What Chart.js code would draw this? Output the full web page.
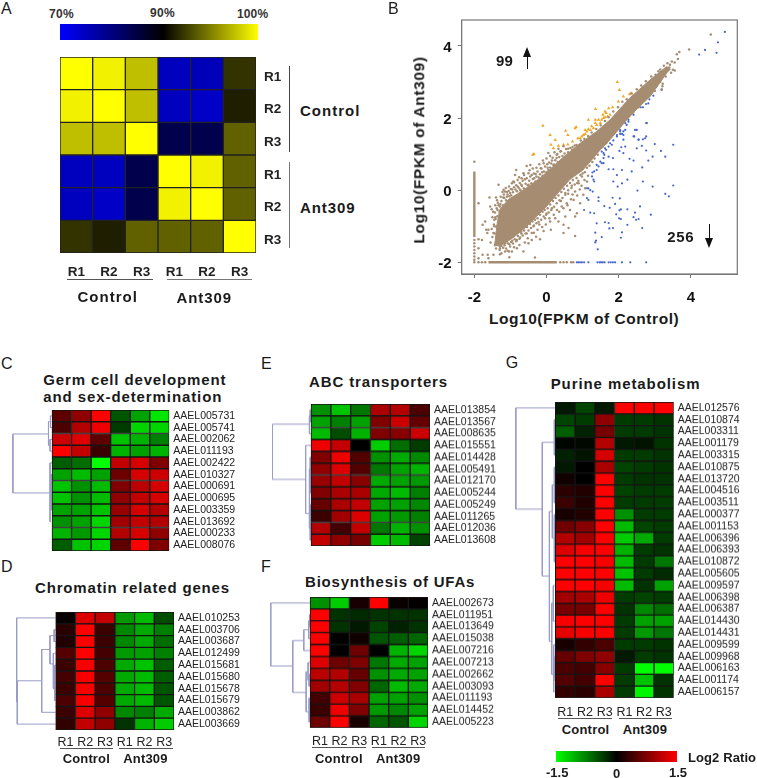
<!DOCTYPE html>
<html>
<head>
<meta charset="utf-8">
<title>Ant309 RNA-seq figure</title>
<script src="https://cdn.jsdelivr.net/npm/chart.js@4"></script>
<style>
html,body{margin:0;padding:0;background:#fff;width:757px;height:778px;overflow:hidden}
#page{position:relative;width:757px;height:778px;font-family:"Liberation Sans",Arial,sans-serif;color:#1a1a1a}
#page canvas{position:absolute}
.t{position:absolute;white-space:nowrap;line-height:1}
.r{position:absolute;background:#666}
</style>
</head>
<body>
<div id="page"></div>
<script>
// ---- panel A
var replicates=['R1','R2','R3','R1','R2','R3'];
var corrRows=[
 [100,99.5,97.5,75,75.5,92],
 [99.5,100,97.5,75,74.5,91.2],
 [97.5,97.5,100,84,84,93.8],
 [75,75,84,100,99.5,93.8],
 [75,74.5,84,99.5,100,93.8],
 [92,91.2,93.8,93.8,93.8,100]];
// ---- panel B, log10 FPKM pairs
var xTicks=[-2,0,2,4];
var yTicks=[-2,0,2,4];
var cloudOutline=[[-1.45,-1.55],[-1.42,-1.4],[-1.38,-1],[-1.3,-0.55],[-1.05,-0.25],[-0.8,-0.1],[-0.5,0.1],[-0.2,0.32],[0.1,0.58],[0.47,0.92],[0.93,1.3],[1.39,1.63],[1.76,1.95],[2.3,2.55],[2.87,3.06],[3.33,3.43],[3.43,3.36],[3.33,3.25],[2.87,2.6],[2.5,2.25],[2.18,1.9],[1.76,1.4],[1.49,1.12],[1.2,0.78],[1,0.55],[0.65,0.3],[0.3,-0.1],[0,-0.45],[-0.3,-0.75],[-0.6,-1.05],[-0.9,-1.3],[-1.2,-1.5],[-1.45,-1.55]];
var stripLeft=[[-2,0.52],[-2,-1.3]];
var stripBottom=[[-1.61,-2],[0.285,-2]];
var brownPts=[[-2,0.79],[-2,-1.38],[-2,-1.47],[-2,-1.56],[-2,-1.66],[-2,-1.75],[-2,-1.84],[-2,-1.93],[-2,-2],[-1.885,-2],[-1.79,-2],[-1.7,-2],[0.38,-2],[0.47,-2],[0.56,-2],[0.68,-2],[0.74,-2],
[-1.885,-0.36],[-1.77,-0.96],[-1.7,-0.87],[-1.67,-1.1],[-1.61,-1.1],[-1.64,-1.19],[-1.885,-1.36],[-1.79,-1.38],[-1.885,-1.61],[-1.77,-1.79],[-1.63,-1.79],[-1.47,-1.79],[-1.29,-1.78],[-1.15,-1.7],[-1.04,-1.7],[-0.96,-1.7],[-1.03,-1.86],[-0.32,-1.87],[-1.61,-1.89],[-1.885,-1.89],
[-1.58,-0.2],[-1.4,-0.2],[-1.33,0.15],[-1.56,-0.45],[-1.52,-0.53],[-1.45,-0.82],[-1.29,-0.45],[-1.3,-0.59],[-1.19,0.01],[-1.15,-0.04],[-0.87,0.42],[-0.84,0.56],[-0.96,0.19],[-0.92,0.24],[-0.64,0.47],[-0.55,0.67],[-0.45,0.7],[-0.41,0.42],[-0.34,0.33],[-0.16,0.61],[-0.08,0.75],[0.05,1.03],[0.28,0.89],[0.38,1.07],[0.19,0.7],[0.05,0.56],[-0.27,0.19],[-0.5,0.15],[-0.73,0.01],[-1.01,-0.08],[-1.1,-0.18],[-1.24,-0.5],[-1.29,-0.78],[-1.4,-1.01],[-1.47,-1.19],
[-1.29,-1.61],[-1.15,-1.47],[-1.01,-1.56],[-0.82,-1.61],[-0.64,-1.7],[-0.82,-1.38],[-0.73,-1.31],[-0.5,-1.47],[-0.41,-1.38],[-0.29,-1.29],[-0.18,-1.36],[-0.41,-1.19],[-0.08,-1.13],[0.12,-1.1],[0.47,-1.19],[0.79,-1.27],[0.61,-1.05],[0.47,-0.96],[0.33,-0.87],[0.1,-0.87],[-0.04,-0.78],[0.24,-0.78],[0.52,-0.73],[0.79,-0.73],[0.84,-0.64],[0.65,-0.55],[0.47,-0.5],[0.29,-0.55],[0.93,-0.36],[0.75,-0.27],[0.56,-0.36],[0.52,-0.13],[0.79,-0.04],[1.02,-0.13],[1.07,0.05],[1.12,0.24],[0.98,0.38],[0.89,0.19],
[-1.2,-0.2],[-1.1,-0.05],[-0.95,0.02],[-0.8,0.1],[-0.7,0.15],[-0.6,0.3],[-0.3,0.45],[-0.12,0.5],[0.02,0.72],[0.15,0.82],[0.3,1],[0.6,1.15],[0.72,1.2],[-1.35,-0.35],[-1.38,-0.5],[-1.42,-0.75],[-1.45,-1],[-1.5,-1.3],[-1.55,-1.45],[-1.3,-1.55],[-1.1,-1.4],[-0.95,-1.4],[-0.7,-1.2],[-0.55,-1.2],[-0.35,-0.98],[-0.2,-0.95],[0,-0.65],[0.15,-0.5],[0.4,-0.3],[0.6,-0.1],[0.7,0.12],[0.85,0.2],
[-1.44,-1.2],[-1.46,-0.95],[-1.41,-0.8],[-1.43,-0.62],[-1.36,-0.72],[-1.33,-0.42],[-1.36,-0.55],[-1.28,-0.38],[-1.25,-0.3],[-1.21,-0.42],[-1.17,-0.22],[-1.18,-0.12],[-1.12,-0.28],[-1.08,-0.12],[-1.05,-0.02],[-1.03,-0.17],[-0.98,-0.14],[-0.99,0.03],[-0.93,-0.06],[-0.9,0.08],[-0.86,0.02],[-0.84,0.14],[-0.82,-0.03],[-0.77,0.06],[-0.74,0.2],[-0.72,-0.01],[-0.68,0.12],[-0.66,0.26],[-0.63,0.05],[-0.58,0.18],[-0.55,0.33],[-0.52,0.14],[-0.48,0.26],[-0.45,0.38],[-0.42,0.19],[-0.38,0.31],[-0.35,0.46],[-0.31,0.24],[-0.28,0.38],[-0.25,0.52],[-0.22,0.35],[-0.18,0.44],[-0.14,0.6],[-0.11,0.4],[-0.07,0.52],[-0.04,0.66],[0,0.5],[0.03,0.62],[0.07,0.77],[0.1,0.63],[0.13,0.74],[0.17,0.9],[0.21,0.71],[0.24,0.83],[0.28,0.98],[0.31,0.78],[0.35,0.92],[0.4,1.08],[0.44,0.95],[0.5,1.02],[0.54,1.14],[0.6,1.05],[0.66,1.17],[0.71,1.12],[0.78,1.24],[0.83,1.25],
[-1.4,-1.62],[-1.35,-1.52],[-1.3,-1.66],[-1.25,-1.55],[-1.2,-1.6],[-1.16,-1.53],[-1.12,-1.62],[-1.07,-1.47],[-1.03,-1.5],[-0.98,-1.44],[-0.93,-1.48],[-0.88,-1.36],[-0.84,-1.42],[-0.79,-1.27],[-0.75,-1.35],[-0.7,-1.15],[-0.66,-1.26],[-0.62,-1.12],[-0.58,-1.2],[-0.54,-1.02],[-0.5,-1.12],[-0.46,-0.94],[-0.43,-1.05],[-0.39,-0.87],[-0.36,-1],[-0.32,-0.82],[-0.28,-0.92],[-0.25,-0.78],[-0.22,-0.88],[-0.18,-0.68],[-0.15,-0.82],[-0.11,-0.6],[-0.08,-0.73],[-0.05,-0.55],[-0.01,-0.68],[0.03,-0.5],[0.06,-0.62],[0.1,-0.4],[0.13,-0.55],[0.18,-0.3],[0.21,-0.46],[0.25,-0.22],[0.28,-0.36],[0.33,-0.15],[0.36,-0.28],[0.41,-0.05],[0.44,-0.22],[0.48,0.04],[0.52,-0.08],[0.57,0.12],[0.6,0],[0.65,0.2],[0.69,0.06],[0.73,0.28],[0.78,0.16],[0.83,0.34],[0.88,0.26],[0.94,0.42],[1,0.46],[1.06,0.5],[1.12,0.62],[1.19,0.68],[1.27,0.78],[1.33,0.88],[1.42,0.98],[1.55,1.2],[1.65,1.3],[1.8,1.5],[1.95,1.68],[2.1,1.88],[2.25,2.02],[2.4,2.15],[2.55,2.3],[2.7,2.48],[2.85,2.62],[3,2.75],[3.15,3],[3.3,3.15],
[0.95,1.38],[1.05,1.42],[1.15,1.5],[1.25,1.6],[1.38,1.7],[1.5,1.8],[1.62,1.92],[1.72,2.02],[1.85,2.18],[1.98,2.3],[2.1,2.45],[2.22,2.52],[2.36,2.68],[2.5,2.8],[2.62,2.9],[2.75,3.02],[2.9,3.15],[3.02,3.2],[3.15,3.35],[3.25,3.45],
[-1.5,-0.75],[-1.52,-1.08],[-1.48,-0.6],[-1.42,-0.42],[-1.37,-0.28],[-1.27,-0.18],[-1.22,-0.05],[-1.13,0.06],[-1.04,0.1],[-0.9,0.22],[-0.8,0.28],[-0.76,0.36],[-0.69,0.33],[-0.62,0.42],[-0.5,0.47],[-0.47,0.55],[-0.38,0.6],[-0.28,0.62],[-0.2,0.72],[-0.1,0.82],[0,0.88],[0.1,0.95],[0.22,1.05],[0.33,1.15],[0.47,1.22],
[-1.25,-1.75],[-1.08,-1.68],[-0.9,-1.58],[-0.75,-1.52],[-0.6,-1.45],[-0.52,-1.33],[-0.35,-1.18],[-0.25,-1.1],[-0.12,-1.02],[-0.02,-0.95],[0.08,-0.78],[0.2,-0.68],[0.35,-0.6],[0.42,-0.45],[0.58,-0.42],[0.68,-0.25],[0.72,-0.12],[0.85,-0.15],[0.92,0.02],[0.97,0.12],[1.05,0.28],[1.15,0.4],
[4.55,4.32],[3.95,3.9],[3.68,3.83],[3.61,3.77],[3.64,3.64],[3.55,3.54],[3.47,3.57],[3.42,3.48],[3.5,3.34],[3.55,3.32],[3.45,3.26],[3.22,2.95],[3.21,2.88],[3.19,2.8],[3.4,3.4],[3.35,3.52],[3.1,3.3],[3.05,2.88]];
var bluePts=[[2.76,1.86],[2.27,1.9],[2.45,1.67],[2.43,1.49],[2.55,1.4],[2.67,1.41],[2.76,1.49],[3,1.28],[3.51,1.26],[2.64,1.23],[2.5,1.16],[2.76,1.1],[3.17,1.09],[3.29,0.93],[2.94,0.93],[2.82,0.82],[2.41,0.82],[2.3,0.87],[2.13,1.03],[2.02,1.09],[2.18,1.21],[2.07,1.19],[2.65,0.63],[2.36,0.52],[2.09,0.56],[1.85,0.58],[1.72,0.58],[1.58,0.75],[1.84,0.89],[1.72,0.93],[1.58,0.89],[1.95,0.42],[2.24,0.29],[2.09,0.19],[1.85,0.24],[1.97,0.1],[2.67,0.24],[2.94,0.1],[3.51,0.13],[2.52,-0.01],[3.29,-0.1],[3.39,-0.17],[1.83,-0.21],[2.03,-0.23],[1.44,-0.2],[1.44,-0.3],[2.59,-0.45],[2.24,-0.53],[2.06,-0.53],[2.02,-0.56],[1.9,-0.38],[1.75,-0.49],[1.6,-0.44],[1.04,-0.55],[1.21,-0.62],[1.32,-0.64],[2.45,-0.62],[2.89,-0.68],[1.93,-0.67],[2.01,-0.78],[2.06,-0.8],[2.41,-0.75],[2.48,-0.82],[2.55,-0.8],[1.39,-0.92],[1.62,-0.89],[1.72,-0.91],[2.24,-0.96],[2.65,-1.05],[1.74,-1.06],[1.84,-1.05],[1.35,-1.18],[2.09,-1.17],[1.53,-1.3],[2.06,-1.32],[1.37,-1.4],[1.35,-1.45],[1.42,-1.64],
[1.27,0.49],[1.32,0.52],[1.26,0.38],[1.39,0.56],[1.44,0.66],[1.53,0.75],[1.58,1.03],[1.65,1.12],[1.72,1.21],[1.76,1.3],[1.85,1.38],[1.95,1.49],[2.04,1.56],[2.13,1.63],[2.04,1.67],[2.13,1.53],[2.22,1.81],[2.18,1.67],[1.81,1.26],[1.62,1.16],[1.53,1.07],[1.6,0.98],[1.49,0.79],[1.39,0.7],[1.3,0.29],[1.32,0.24],[1.16,0.05],[1.21,0],[1.12,0.05],[1.28,-0.04],[1.16,-0.27],[1.12,-0.22],
[0.84,-2],[0.88,-2],[0.93,-2],[0.98,-2],[1.04,-2],[1.16,-2],[1.41,-2],[1.47,-2],[1.51,-2],[1.56,-2],[1.61,-2],[1.72,-2],[1.78,-2],[1.84,-2],[1.9,-2],[2.09,-2],[2.32,-2],[2.76,-2],
[4.94,4.39],[4.75,4.1],[4.71,3.81],[4.39,3.89],[4.23,3.76],[3.19,2.78],[2.96,2.62],[2.85,2.52],[2.76,2.39],[2.67,2.3],[2.61,2.3],[2.82,2.41],[2.41,2.09],[2.27,1.95],[2.18,1.86],[2.04,1.63],[1.95,1.53],[2.5,1.67],[2.78,1.86],[2.41,1.49],[2.55,1.4],[2.73,1.44],[2.13,1.4],[2.09,1.56]];
var orangePts=[[1.96,3],[2.02,2.78],[2.13,2.6],[2.3,2.66],[2.34,2.69],[1.99,2.46],[1.83,2.3],[1.72,2.27],[1.62,2.18],[1.36,2.25],[1.16,1.95],[1.35,1.95],[0.82,1.75],[0.79,1.72],[0.53,1.65],[-0.1,1.79],[0.1,1.53],[0.24,1.39],[0.59,1.53],[0.12,1.26],[0.19,1.16],[0.33,1.23],[0.47,1.26],[0.59,1.27],[0.72,1.35],[0.87,1.44],[-0.38,0.98],[-0.35,1],[0.93,1.44],[1.02,1.53],[1.12,1.63],[1.07,1.67],[1.21,1.67],[1.3,1.72],[1.39,1.81],[1.49,1.86],[1.58,2],[1.69,2.04],[1.76,2.09],[1.56,2.09],[1.44,1.95],[1.35,1.86],[1.25,1.77],[1.16,1.69],[1.07,1.56],[0.98,1.49],[1.53,1.95],[1.62,2.02],[1.65,2.14]];
// ---- panels C-G, log2 ratios
var genesC=['AAEL005731','AAEL005741','AAEL002062','AAEL011193','AAEL002422','AAEL010327','AAEL000691','AAEL000695','AAEL003359','AAEL013692','AAEL000233','AAEL008076'];
var ratiosC=[
 [.55,.85,1.5,-.5,-.95,-1.35],[.45,1.05,1.4,-.35,-1.25,-1.25],[1.2,1.3,.55,-1.15,-1.05,-.75],[1.5,1.15,.35,-1.05,-.95,-1.05],
 [-.55,-.65,-1.5,1.15,1.25,.75],[-.95,-1.1,-.95,.65,1.25,1.2],[-1.15,-.85,-1.1,.75,1.1,1.25],[-1.15,-.85,-1.1,.85,1.15,1.25],
 [-.95,-.95,-1.15,.9,1.25,1.05],[-.85,-.95,-1.25,.95,1.15,1.05],[-1.05,-.9,-1.25,1.05,1.25,.85],[-.55,-1.15,-1.25,.55,1.5,.75]];
var treeC=[[2,1.54,6.56,.18,.1],[.18,.5,2.5,.08,.1],[.08,0,1,0,0],[.1,2,3,0,0],[.1,4,9,0,.05],[.05,5,8,0,0]];
var genesD=['AAEL010253','AAEL003706','AAEL003687','AAEL012499','AAEL015681','AAEL015680','AAEL015678','AAEL015679','AAEL003862','AAEL003669'];
var ratiosD=[
 [.05,1.3,1.15,-.9,-1.1,-.45],[.25,1.5,.35,-.8,-1,-.75],[.2,1.5,.35,-.8,-1,-.65],[.5,1.5,.4,-.9,-.95,-.75],[.35,1.45,.45,-1,-1.15,-.55],
 [.4,1.45,.5,-1,-1.1,-.55],[.35,1.45,.45,-1,-1.1,-.5],[.45,1.45,.5,-1,-1.1,-.5],[.35,1.3,.85,-.8,-.75,-1],[.3,1.15,.85,-.3,-1.05,-1.2]];
var treeD=[[1.98,0,7.1,0,1.95],[1.95,5.33,9,.71,0],[.71,2.68,8,.29,0],[.29,1.5,3.9,.08,.12],[.08,1,2,0,0],[.12,3,6,0,.05],[.05,4,7,0,0]];
var genesE=['AAEL013854','AAEL013567','AAEL008635','AAEL015551','AAEL014428','AAEL005491','AAEL012170','AAEL005244','AAEL005249','AAEL011265','AAEL012036','AAEL013608'];
var ratiosE=[
 [-.85,-1.15,-.7,1,1.05,.45],[-.95,-.75,-.95,.75,1.2,.6],[-1.1,-.45,-1.05,.75,.8,1.2],[1.4,1.15,0,-1.2,-.65,-.35],
 [.75,1.4,.5,-.85,-1,-.8],[.85,1.3,.5,-.7,-.95,-1.05],[.9,1.15,.8,-1,-.95,-.9],[.75,1,1,-1,-1.1,-.75],
 [.6,1,1.15,-.95,-.95,-.8],[.35,.95,1.3,-.95,-.9,-.75],[1.05,.4,1.15,-.7,-1.05,-.85],[1.15,.85,.7,-1.2,-1.1,-.4]];
var treeE=[[1.95,1.2,5.87,.08,.27],[.08,.5,2,.04,0],[.04,0,1,0,0],[.27,3,8.75,0,.08],[.08,5,10,.04,.04],[.04,4,7,0,0],[.04,8,11,0,0]];
var genesF=['AAEL002673','AAEL011951','AAEL013649','AAEL015038','AAEL007216','AAEL007213','AAEL002662','AAEL003093','AAEL011193','AAEL014452','AAEL005223'];
var ratiosF=[
 [-.85,-1.2,.15,1.5,.05,.03],[1.5,-.3,-.25,-.3,-.3,-.3],[1.5,-.3,-.15,-.4,-.2,-.3],[1.5,0,.1,-.5,-.55,-.6],[1.5,0,.65,0,-1.05,-1.25],
 [1.3,.65,.75,-.7,-1,-.95],[1.1,1.05,.6,-.85,-1,-.95],[.95,1.05,.75,-.6,-1.1,-1],[.4,1.2,1,-.95,-.95,-.85],[.35,1.4,.75,-.9,-.8,-.95],[.65,1.5,.15,-.6,-.5,-1.25]];
var treeF=[[2,0,5.3,0,.88],[.88,3.16,7.52,.32,.2],[.32,2.26,4,.07,0],[.07,1.5,3,.03,0],[.03,1,2,0,0],[.2,5.78,9.15,.1,.05],[.1,5,6.5,0,.05],[.05,6,7,0,0],[.05,8,10,0,0]];
var genesG=['AAEL012576','AAEL010874','AAEL003311','AAEL001179','AAEL003315','AAEL010875','AAEL013720','AAEL004516','AAEL003511','AAEL000377','AAEL001153','AAEL006396','AAEL006393','AAEL010872','AAEL005605','AAEL009597','AAEL006398','AAEL006387','AAEL014430','AAEL014431','AAEL009599','AAEL009968','AAEL006163','AAEL001174','AAEL006157'];
var ratiosG=[
 [-.15,-.4,-.15,1.5,1.5,1.5],[-.4,-.35,.85,-.35,-.35,-.3],[-.55,-.2,.7,-.35,-.35,-.3],[-.03,-.05,1.05,-.15,-.12,-.3],[-.2,-.12,1.25,-.35,-.35,-.3],
 [-.15,0,1,-.4,-.35,-.3],[.1,0,1.5,-.35,-.3,-.3],[.25,.2,1.5,-.4,-.35,-.35],[.35,.2,1.5,-.35,-.35,-.35],[.15,.2,1.5,-.85,-.35,-.35],
 [.65,.8,1.5,-1.1,-.4,-.35],[1.05,.95,1.5,-1.2,-1,-.35],[1.3,1.45,1.5,-1.05,-.35,-.3],[1.5,1.5,1.45,-1.1,-.35,-.7],[1.5,1.5,1.5,-1.15,-.35,-.25],
 [1.5,1.5,1.45,-1.1,-.3,-.95],[.95,1,1.4,-.35,-.4,-.35],[.7,.7,1.5,-.3,-.8,-.65],[1.45,1.5,1.5,-.35,-.95,-.95],[1.35,1.45,1.5,-.35,-.9,-.7],
 [.15,.3,.45,-.35,-.35,-.3],[.6,.75,.85,-.15,-.35,-.3],[.45,.4,.8,-.35,-1.5,-1.5],[.5,.4,1.5,-.35,-1.15,-.3],[.3,.25,1,-.35,-1.45,-.3]];
var treeG=[[2,0,8.55,0,.66],[.66,2.9,14.2,.05,.3],[.05,1,4,0,0],[.3,8.74,19.7,.15,.18],[.15,6.5,11,.05,.05],[.05,5,8,0,0],[.05,9,13,0,0],[.18,16.5,22.5,.1,.08],[.1,15,18,0,0],[.08,20,24,0,.04],[.04,21,23,0,0]];

var page=document.getElementById('page');

function addText(txt,x,y,opt){
  opt=opt||{};
  var el=document.createElement('div');
  el.className='t';
  el.textContent=txt;
  el.style.fontSize=(opt.size||12)+'px';
  if(opt.bold) el.style.fontWeight='bold';
  if(opt.color) el.style.color=opt.color;
  page.appendChild(el);
  // stretch the letters out to the width measured on the picture
  if(opt.w) el.style.letterSpacing=((opt.w-el.offsetWidth)/txt.length)+'px';
  el.style.left=x+'px';
  el.style.top=y+'px';
  el.style.transform=opt.rotate?'translate(-50%,-50%) rotate(-90deg)':'translateY(-50%)';
  return el;
}
function addRule(x,y,w,h,col){
  var el=document.createElement('div');
  el.className='r';
  el.style.cssText='left:'+x+'px;top:'+y+'px;width:'+w+'px;height:'+h+'px;background:'+(col||'#666');
  page.appendChild(el);
}
function addArrow(x,y1,y2){
  // shaft plus head, y1 is the tail and y2 the point
  var dir=y2<y1?1:-1;
  addRule(x-0.75,Math.min(y1,y2)+(dir>0?6:0),1.5,Math.abs(y2-y1)-6,'#111');
  var h=document.createElement('div');
  h.style.cssText='position:absolute;width:0;height:0;left:'+(x-4.5)+'px;top:'+(dir>0?y2:y2-10)+'px;border-left:4.5px solid transparent;border-right:4.5px solid transparent;'+(dir>0?'border-bottom':'border-top')+':10px solid #111';
  page.appendChild(h);
}
function addCanvas(x,y,w,h){
  var c=document.createElement('canvas');
  c.width=w;c.height=h;
  c.style.left=x+'px';c.style.top=y+'px';
  c.style.width=w+'px';c.style.height=h+'px';
  page.appendChild(c);
  return c;
}

function ratioColour(v){
  var k=Math.round(Math.min(Math.abs(v)/1.5,1)*255);
  return v>=0?'rgb('+k+',0,0)':'rgb(0,'+k+',0)';
}
function corrColour(v){
  if(v>=90){var k=Math.round((v-90)/10*255);return 'rgb('+k+','+k+',0)';}
  return 'rgb(0,0,'+Math.round((90-v)/20*255)+')';
}
// stop the scales pushing the plot area in to make room for their labels
function noMargins(s){
  s.paddingLeft=0;s.paddingRight=0;s.paddingTop=0;s.paddingBottom=0;
}

// one heat map: stacked horizontal bars, one dataset per column
function heatMap(o){
  var n=o.rows.length, cellW=(o.right-o.left)/6;
  var x0=o.treeLeft||o.left;
  var below=o.below||0;
  var c=addCanvas(x0,o.top,o.canvasRight-x0,o.bottom-o.top+below);
  var sets=[];
  for(var j=0;j<6;j++){
    sets.push({
      type:'bar',indexAxis:'y',xAxisID:'x',yAxisID:'y',
      data:o.rows.map(function(){return 1}),
      backgroundColor:o.rows.map(function(r){return o.colour(r[j])}),
      borderColor:o.edge||'#151515',borderWidth:o.edgeW||1,borderSkipped:false,
      barPercentage:1,categoryPercentage:1
    });
  }
  (o.tree||[]).forEach(function(m){
    sets.push({type:'scatter',xAxisID:'x',yAxisID:'yd',showLine:true,
      data:[{x:-m[3],y:m[1]},{x:-m[0],y:m[1]},{x:-m[0],y:m[2]},{x:-m[4],y:m[2]}],
      borderColor:'#9a9cc6',borderWidth:1,pointRadius:0,clip:false});
  });
  new Chart(c,{
    data:{labels:o.labels,datasets:sets},
    options:{
      responsive:false,animation:false,devicePixelRatio:1,
      layout:{padding:0,autoPadding:false},
      plugins:{legend:{display:false},tooltip:{enabled:false}},
      scales:{
        x:{type:'linear',axis:'x',stacked:true,min:-(o.left-x0)/cellW,max:6,position:'bottom',
          display:!!o.below,
          grid:{display:false,drawTicks:false},border:{display:false},
          afterBuildTicks:function(s){s.ticks=[.5,1.5,2.5,3.5,4.5,5.5].map(function(v){return {value:v}})},
          afterFit:function(s){s.height=below;noMargins(s)},
          ticks:{autoSkip:false,maxRotation:0,padding:o.xPad||0,color:'#222',font:o.xFont||{family:'Liberation Sans',size:12.5},
            callback:function(v,i){return replicates[i]}}},
        y:{type:'category',axis:'y',stacked:true,position:'right',offset:true,
          grid:{display:false,drawTicks:false},border:{display:false},
          afterFit:function(s){s.width=o.canvasRight-o.right;noMargins(s)},
          ticks:{autoSkip:false,padding:o.yPad||4,color:'#222',labelOffset:o.yOffset||0,font:o.yFont||{family:'Liberation Sans',size:10.5}}},
        yd:{type:'linear',axis:'y',display:false,reverse:true,min:-.5,max:n-.5}
      }
    }
  });
}

// colour key: a single floating bar painted with a gradient
function colourKey(x,y,w,h,stops){
  var c=addCanvas(x,y,w,h);
  new Chart(c,{
    type:'bar',
    data:{labels:['key'],datasets:[{data:[[0,1]],barPercentage:1,categoryPercentage:1,borderWidth:0,
      backgroundColor:function(ctx){
        var a=ctx.chart.chartArea;
        if(!a) return '#000';
        var g=ctx.chart.ctx.createLinearGradient(a.left,0,a.right,0);
        stops.forEach(function(s){g.addColorStop(s[0],s[1])});
        return g;
      }}]},
    options:{indexAxis:'y',responsive:false,animation:false,devicePixelRatio:1,layout:{padding:0,autoPadding:false},
      plugins:{legend:{display:false},tooltip:{enabled:false}},
      scales:{x:{display:false,min:0,max:1},y:{display:false}}}
  });
}

// ---------- A
colourKey(59.5,24,198.5,15.5,[[0,'#0000ff'],[.52,'#000'],[1,'#ffff00']]);
addText('70%',49,14,{bold:1,size:12,w:25,color:'#333'});
addText('90%',150,12.5,{bold:1,size:12,w:25,color:'#333'});
addText('100%',237,14,{bold:1,size:12,w:31.5,color:'#333'});
heatMap({left:60,right:256,top:57.3,bottom:253.3,canvasRight:286,below:28,rows:corrRows,labels:replicates,colour:corrColour,
  edge:'#222',xPad:11,yPad:8,yOffset:3.5,
  xFont:{family:'Liberation Sans',size:13.5,weight:'bold'},yFont:{family:'Liberation Sans',size:13.5,weight:'bold'}});
addRule(289,65.7,1,86,'#444');
addRule(289,162.3,1.3,85.4,'#777');
addText('Control',300,109.5,{bold:1,size:15,w:60});
addText('Ant309',300,206.5,{bold:1,size:15,w:55.5});
addRule(67.3,278.8,85.4,1.2,'#555');
addRule(166.7,278.8,85,1.5,'#777');
addText('Control',77.5,296,{bold:1,size:15,w:60});
addText('Ant309',176.5,296.5,{bold:1,size:15,w:55.5});

// ---------- B
var boxFrame={id:'boxFrame',afterDraw:function(chart){
  var a=chart.chartArea,g=chart.ctx;
  g.save();g.strokeStyle='#777';g.lineWidth=1.2;
  g.strokeRect(a.left,a.top,a.right-a.left,a.bottom-a.top);
  g.restore();
}};
function toXY(p){return {x:p[0],y:p[1]}}
var brown='#a68d72';
var bCanvas=addCanvas(400,10,350,300);
new Chart(bCanvas,{
  type:'scatter',
  data:{datasets:[
    {data:cloudOutline.map(toXY),showLine:true,fill:'shape',backgroundColor:brown,borderColor:brown,borderWidth:1,pointRadius:0,order:1},
    {data:stripLeft.map(toXY),showLine:true,borderColor:brown,borderWidth:2.4,pointRadius:0,order:1},
    {data:stripBottom.map(toXY),showLine:true,borderColor:brown,borderWidth:2.4,pointRadius:0,order:1},
    {data:brownPts.map(toXY),backgroundColor:brown,borderWidth:0,pointRadius:1.25,order:2},
    {data:bluePts.map(toXY),backgroundColor:'#4466cc',borderWidth:0,pointRadius:1.1,order:3},
    {data:orangePts.map(toXY),backgroundColor:'#f0a626',borderWidth:0,pointStyle:'triangle',pointRadius:2,order:3}
  ]},
  options:{
    responsive:false,animation:false,devicePixelRatio:1,
    layout:{padding:{top:10,right:12.7,left:0,bottom:0},autoPadding:false},
    plugins:{legend:{display:false},tooltip:{enabled:false}},
    scales:{
      x:{type:'linear',min:-2.35,max:5.285,
        grid:{drawOnChartArea:false,color:'#777',tickLength:4},border:{color:'#777'},
        afterBuildTicks:function(s){s.ticks=xTicks.map(function(v){return {value:v}})},
        afterFit:function(s){s.height=36;noMargins(s)},
        ticks:{padding:11,color:'#111',font:{family:'Liberation Sans',size:15,weight:'bold'}}},
      y:{type:'linear',min:-2.325,max:4.72,
        grid:{drawOnChartArea:false,color:'#777',tickLength:4},border:{color:'#777'},
        afterBuildTicks:function(s){s.ticks=yTicks.map(function(v){return {value:v}})},
        afterFit:function(s){s.width=61.7;noMargins(s)},
        ticks:{padding:6,labelOffset:2,color:'#111',font:{family:'Liberation Sans',size:15,weight:'bold'}}}
    }
  },
  plugins:[boxFrame]
});
addText('Log10(FPKM of Ant309)',419,150,{bold:1,size:15.5,w:187,rotate:1});
addText('Log10(FPKM of Control)',489,319,{bold:1,size:15.5,w:190});
addText('99',496,59.5,{bold:1,size:15,w:17.5});
addText('256',667.3,236,{bold:1,size:15,w:27});
addArrow(527.3,69.5,46.7);
addArrow(709.3,224,247.5);

// ---------- C to G
heatMap({left:52,right:169.3,top:410,bottom:551,treeLeft:12,canvasRight:240,rows:ratiosC,labels:genesC,colour:ratioColour,tree:treeC});
heatMap({left:55.7,right:174,top:611.7,bottom:730,treeLeft:16,canvasRight:245,below:20,rows:ratiosD,labels:genesD,colour:ratioColour,tree:treeD,xPad:5});
heatMap({left:311,right:430,top:404.3,bottom:545.7,treeLeft:272,canvasRight:500,rows:ratiosE,labels:genesE,colour:ratioColour,tree:treeE});
heatMap({left:309.7,right:428,top:597.3,bottom:727.7,treeLeft:269.5,canvasRight:498,below:20,rows:ratiosF,labels:genesF,colour:ratioColour,tree:treeF,xPad:6});
heatMap({left:555.3,right:673.7,top:402.3,bottom:698.3,treeLeft:515,canvasRight:744,below:20,rows:ratiosG,labels:genesG,colour:ratioColour,tree:treeG,xPad:7});

addText('Germ cell development',43.3,378.5,{bold:1,size:15,w:183});
addText('and sex-determination',43.3,396,{bold:1,size:15,w:179});
addText('Chromatin related genes',35,587,{bold:1,size:15,w:195});
addText('ABC transporters',309,381,{bold:1,size:15,w:139});
addText('Biosynthesis of UFAs',305,581,{bold:1,size:15,w:170});
addText('Purine metabolism',550.7,383,{bold:1,size:15,w:149.5});

addRule(60,748,53.3,1,'#555');addRule(119.3,748,53.4,1,'#555');
addText('Control',62.7,758,{bold:1,size:13,w:47});
addText('Ant309',123.3,758,{bold:1,size:13,w:44});
addRule(312.3,747.3,53.4,1,'#555');addRule(371.7,747.3,53.3,1,'#555');
addText('Control',315,757.5,{bold:1,size:13,w:47.5});
addText('Ant309',376,757.5,{bold:1,size:13,w:44});
addRule(558.3,718.3,53.7,1,'#555');addRule(618.7,718.3,53.3,1,'#555');
addText('Control',561.7,728.5,{bold:1,size:13,w:47.5});
addText('Ant309',622.7,728.5,{bold:1,size:13,w:44});

colourKey(555.7,750.7,121.6,11,[[0,'#00ff00'],[.5,'#000'],[1,'#ff0000']]);
addText('Log2 Ratio',688,757,{bold:1,size:13,w:68});
addText('-1.5',546,771.5,{bold:1,size:13});
addText('0',613,773,{bold:1,size:13});
addText('1.5',669,771.5,{bold:1,size:13});

// panel letters
addText('A',1,8.5,{size:16});
addText('B',388,8.5,{size:16});
addText('C',1,364,{size:16});
addText('D',1,567,{size:16});
addText('E',261,364,{size:16});
addText('F',261,567,{size:16});
addText('G',505.7,363,{size:16});
</script>
</body>
</html>
